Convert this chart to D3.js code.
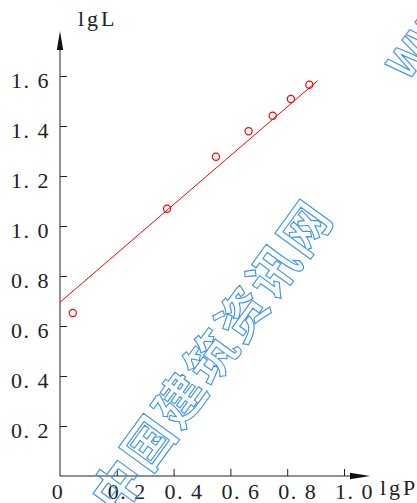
<!DOCTYPE html>
<html>
<head>
    <meta charset="utf-8">
    <title>lgL - lgP</title>
    <script type="text/javascript" src="https://cdn.jsdelivr.net/npm/d3@7"></script>
</head>
<body style="margin:0;background:#fff">

<style>
.axis text, .name {
    font-family: "Liberation Serif", serif;
    font-size: 22px;
    letter-spacing: 1.5px;
    fill: #222;
}
.axis line { stroke: #222; }
.axis path.domain { display: none; }
.fit { stroke: red; stroke-width: 1; fill: none; }
.pt { fill: none; stroke: red; stroke-width: 1.2; }
.wm {
    font-family: "Noto Sans CJK SC", sans-serif;
    font-weight: bold;
    fill: none;
    stroke: #3b93e8;
    stroke-width: 1.1;
}
</style>

<script type="text/javascript">
    var width = 417,
        height = 503;

    // measured points (lgP, lgL)
    var lgP = [0.045, 0.377, 0.549, 0.664, 0.749, 0.813, 0.878];
    var lgL = [0.652, 1.069, 1.277, 1.379, 1.441, 1.508, 1.565];

    // fitted straight line, two ends
    var fitP = [0, 0.907];
    var fitL = [0.695, 1.581];

    var xTicks = [0.2, 0.4, 0.6, 0.8, 1.0];
    var xTickLabels = ["0. 2", "0. 4", "0. 6", "0. 8", "1. 0"];
    var yTicks = [0.2, 0.4, 0.6, 0.8, 1.0, 1.2, 1.4, 1.6];
    var yTickLabels = ["0. 2", "0. 4", "0. 6", "0. 8", "1. 0", "1. 2", "1. 4", "1. 6"];

    var x = d3.scaleLinear().domain([0, 1]).range([60, 344]),
        y = d3.scaleLinear().domain([0, 1.6]).range([476, 76]);

    var svg = d3.select("body").append("svg")
        .attr("width", width)
        .attr("height", height);

    // axes lines with arrows
    svg.append("line")
        .attr("x1", x(0)).attr("y1", y(0))
        .attr("x2", x(0)).attr("y2", 45)
        .attr("stroke", "#222");
    svg.append("path")
        .attr("d", "M" + x(0) + ",31L" + (x(0) - 3.2) + ",50L" + (x(0) + 3.2) + ",50Z")
        .attr("fill", "#111");
    svg.append("line")
        .attr("x1", x(0)).attr("y1", y(0))
        .attr("x2", 356).attr("y2", y(0))
        .attr("stroke", "#222");
    svg.append("path")
        .attr("d", "M370," + y(0) + "L350," + (y(0) - 3.2) + "L350," + (y(0) + 3.2) + "Z")
        .attr("fill", "#111");

    var yAxis = d3.axisLeft(y)
        .tickValues(yTicks)
        .tickSize(-7)
        .tickPadding(10)
        .tickFormat(function(d, i){ return yTickLabels[i]; });

    var gy = svg.append("g")
        .attr("class", "axis")
        .attr("transform", "translate(" + x(0) + ",0)")
        .call(yAxis);
    gy.selectAll("text").attr("dy", null).attr("y", 11);

    var xAxis = d3.axisBottom(x)
        .tickValues(xTicks)
        .tickSize(-7)
        .tickFormat(function(d, i){ return xTickLabels[i]; });

    var gx = svg.append("g")
        .attr("class", "axis")
        .attr("transform", "translate(0," + y(0) + ")")
        .call(xAxis);
    gx.selectAll("text").attr("dy", null).attr("y", 23).attr("x", 10);

    gx.append("text")
        .attr("x", x(0) - 2).attr("y", 23)
        .attr("text-anchor", "middle")
        .text("0");

    // axis names
    svg.append("text").attr("class", "name")
        .attr("x", 78).attr("y", 26)
        .style("letter-spacing", "3px")
        .text("lgL");
    svg.append("text").attr("class", "name")
        .attr("x", 380).attr("y", 495)
        .style("letter-spacing", "3px")
        .text("lgP");

    // fitted line
    var line = d3.line()
        .x(function(d){ return x(d[0]); })
        .y(function(d){ return y(d[1]); });
    svg.append("path")
        .attr("class", "fit")
        .attr("d", line(d3.zip(fitP, fitL)));

    // points
    svg.selectAll("circle.pt")
        .data(d3.zip(lgP, lgL))
        .enter().append("circle")
        .attr("class", "pt")
        .attr("cx", function(d){ return x(d[0]); })
        .attr("cy", function(d){ return y(d[1]); })
        .attr("r", 3.6);

    // watermark
    svg.append("text")
        .attr("class", "wm")
        .attr("transform", "translate(209,354) rotate(-54)")
        .attr("text-anchor", "middle")
        .attr("dominant-baseline", "central")
        .style("font-size", "50px")
        .style("letter-spacing", "3px")
        .text("中国建筑资讯网");
    svg.append("text")
        .attr("class", "wm")
        .attr("transform", "translate(408,82) rotate(-54)")
        .style("font-size", "40px")
        .text("WWW");
</script>

</body>
</html>
